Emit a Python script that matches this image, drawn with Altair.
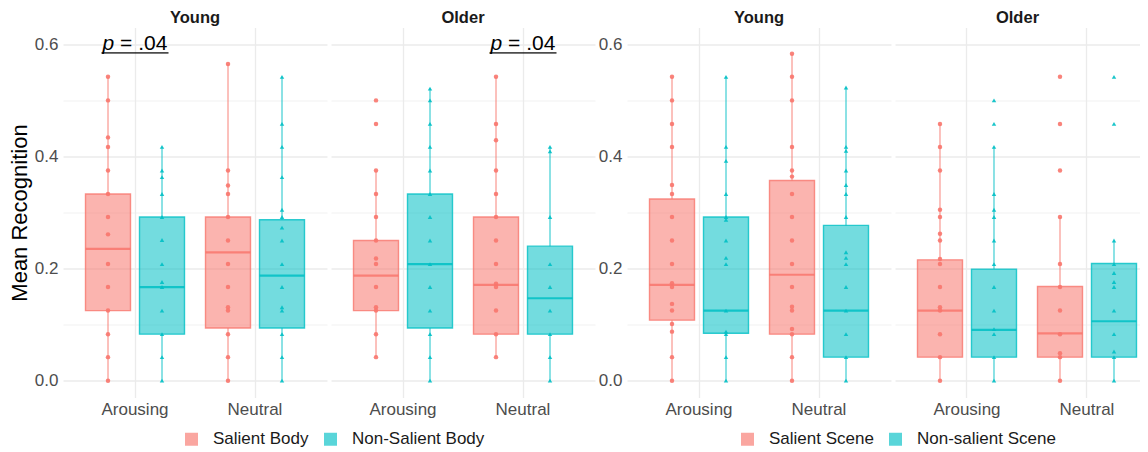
import altair as alt
import pandas as pd

RED = "#F8766D"
TEAL = "#00BFC4"

ages = ["Young", "Older"]
conds = ["Arousing", "Neutral"]
body_types = ["Salient Body", "Non-Salient Body"]
scene_types = ["Salient Scene", "Non-salient Scene"]
marker_kinds = ["sal", "non"]

# box order: Young-Arousing (S, N), Young-Neutral (S, N), Older-Arousing (S, N), Older-Neutral (S, N)
box_age = ["Young"] * 4 + ["Older"] * 4
box_cond = ["Arousing", "Arousing", "Neutral", "Neutral"] * 2
box_kind = [0, 1, 0, 1] * 2

body_lo = [0.0, 0.0, 0.0, 0.0, 0.042, 0.0, 0.042, 0.0]
body_q1 = [0.125, 0.083, 0.094, 0.094, 0.125, 0.094, 0.083, 0.083]
body_med = [0.235, 0.167, 0.229, 0.1875, 0.1875, 0.208, 0.171, 0.147]
body_q3 = [0.333, 0.292, 0.292, 0.287, 0.25, 0.333, 0.292, 0.24]
body_hi = [0.542, 0.417, 0.565, 0.542, 0.375, 0.521, 0.542, 0.417]
body_pts = [
    [0.542, 0.5, 0.434, 0.417, 0.375, 0.333, 0.292, 0.261, 0.208, 0.167, 0.125, 0.083, 0.042, 0.0],
    [0.417, 0.375, 0.363, 0.333, 0.292, 0.251, 0.208, 0.176, 0.167, 0.125, 0.083, 0.042, 0.0],
    [0.565, 0.375, 0.348, 0.333, 0.292, 0.25, 0.208, 0.167, 0.131, 0.125, 0.083, 0.042, 0.0],
    [0.542, 0.458, 0.417, 0.363, 0.305, 0.292, 0.273, 0.25, 0.208, 0.167, 0.131, 0.125, 0.083, 0.042, 0.0],
    [0.5, 0.458, 0.375, 0.333, 0.292, 0.25, 0.218, 0.208, 0.167, 0.131, 0.125, 0.083, 0.042],
    [0.521, 0.5, 0.458, 0.417, 0.375, 0.333, 0.292, 0.25, 0.208, 0.167, 0.125, 0.083, 0.042, 0.0],
    [0.542, 0.458, 0.429, 0.375, 0.333, 0.292, 0.25, 0.208, 0.173, 0.167, 0.125, 0.083, 0.042],
    [0.417, 0.409, 0.292, 0.208, 0.167, 0.125, 0.083, 0.042, 0.0],
]

scene_lo = [0.0, 0.0, 0.0, 0.0, 0.0, 0.0, 0.0, 0.0]
scene_q1 = [0.108, 0.0845, 0.083, 0.042, 0.042, 0.042, 0.042, 0.042]
scene_med = [0.171, 0.125, 0.189, 0.125, 0.125, 0.0905, 0.0845, 0.106]
scene_q3 = [0.324, 0.292, 0.357, 0.277, 0.2155, 0.199, 0.168, 0.209]
scene_hi = [0.542, 0.542, 0.583, 0.523, 0.458, 0.417, 0.292, 0.25]
scene_pts = [
    [0.542, 0.5, 0.458, 0.417, 0.349, 0.333, 0.292, 0.25, 0.208, 0.174, 0.167, 0.137, 0.125, 0.101, 0.0875, 0.042, 0.0],
    [0.542, 0.417, 0.392, 0.333, 0.292, 0.287, 0.25, 0.219, 0.208, 0.125, 0.0875, 0.083, 0.042, 0.0],
    [0.583, 0.542, 0.5, 0.417, 0.375, 0.364, 0.333, 0.292, 0.25, 0.208, 0.167, 0.132, 0.125, 0.092, 0.083, 0.042, 0.0],
    [0.523, 0.417, 0.41, 0.375, 0.349, 0.333, 0.292, 0.229, 0.219, 0.208, 0.167, 0.125, 0.083, 0.042, 0.0],
    [0.458, 0.417, 0.375, 0.305, 0.292, 0.262, 0.25, 0.217, 0.208, 0.167, 0.131, 0.125, 0.083, 0.042, 0.0],
    [0.5, 0.458, 0.417, 0.333, 0.305, 0.292, 0.25, 0.208, 0.167, 0.125, 0.092, 0.083, 0.042, 0.0],
    [0.542, 0.458, 0.375, 0.292, 0.208, 0.167, 0.125, 0.083, 0.049, 0.042, 0.0],
    [0.542, 0.458, 0.25, 0.208, 0.192, 0.176, 0.167, 0.125, 0.083, 0.052, 0.042, 0.0],
]

annot_age = ["Young", "Older"]
annot_cond = ["Arousing", "Neutral"]
annot_p = ["p", "p"]
annot_rest = ["= .04", "= .04"]
annot_text_y = [0.589, 0.589]
annot_line_y = [0.5848, 0.5848]


def boxes_df(types, lo, q1, med, q3, hi):
    return pd.DataFrame({
        "age": box_age, "cond": box_cond,
        "type": [types[k] for k in box_kind],
        "lo": lo, "q1": q1, "med": med, "q3": q3, "hi": hi,
    })


def points_df(types, pts):
    rows = []
    for a, c, k, vals in zip(box_age, box_cond, box_kind, pts):
        for v in vals:
            rows.append({"age": a, "cond": c, "type": types[k], "mk": marker_kinds[k], "value": v})
    return pd.DataFrame(rows)


annot_df = pd.DataFrame({"age": annot_age, "cond": annot_cond, "p": annot_p,
                         "rest": annot_rest, "ty": annot_text_y, "ly": annot_line_y})

GRID_W = {"condition": {"test": "round(datum.value*10) % 2 == 0", "value": 1.3}, "value": 0.7}


def panel(types, bdf, pdf, age, width, po, align, show_labels, ytitle, legend, annotate):
    b = bdf[bdf.age == age]
    p = pdf[pdf.age == age]
    cscale = alt.Scale(domain=types, range=[RED, TEAL])
    xax = alt.Axis(title=None, labelFontSize=17, labelColor="#4D4D4D", labelAngle=0,
                   labelPadding=4, ticks=False, domain=False, grid=True,
                   gridColor="#EBEBEB", gridWidth=1.3, bandPosition=0.5)
    x = alt.X("cond:N", sort=conds,
              scale=alt.Scale(domain=conds, paddingInner=0.15, paddingOuter=po, align=align),
              axis=xax)
    xo = alt.XOffset("type:N", sort=types,
                     scale=alt.Scale(domain=types, paddingInner=1 - 45 / 54, paddingOuter=0.0278))
    ysc = alt.Scale(domain=[-0.03, 0.63], nice=False, zero=False)
    yax = alt.Axis(values=[0, 0.1, 0.2, 0.3, 0.4, 0.5, 0.6],
                   labelExpr="round(datum.value*10) % 2 == 0 ? format(datum.value, '.1f') : ''",
                   labels=show_labels, labelFontSize=17, labelColor="#4D4D4D", labelPadding=5,
                   ticks=False, domain=False, grid=True, gridColor="#EBEBEB", gridWidth=GRID_W,
                   title=ytitle, titleFontSize=22, titleFontWeight="normal", titleColor="#000000",
                   titlePadding=3)
    col = alt.Color("type:N", scale=cscale)

    layers = [
        # boxes first: its legend settings are the ones that count
        alt.Chart(b).mark_bar(fillOpacity=0.55, strokeOpacity=0.8, strokeWidth=1.4).encode(
            x=x, xOffset=xo, y=alt.Y("q1:Q", scale=ysc, axis=yax), y2="q3:Q",
            color=alt.Color("type:N", scale=cscale, legend=legend),
            stroke=alt.Stroke("type:N", scale=cscale, legend=None)),
        alt.Chart(b).mark_rule(strokeWidth=1.4, opacity=0.65).encode(
            x=x, xOffset=xo, y=alt.Y("lo:Q", scale=ysc, axis=yax), y2="q1:Q", color=col),
        alt.Chart(b).mark_rule(strokeWidth=1.4, opacity=0.65).encode(
            x=x, xOffset=xo, y=alt.Y("q3:Q", scale=ysc, axis=yax), y2="hi:Q", color=col),
        alt.Chart(b).mark_tick(orient="horizontal", size=45, thickness=2.2, opacity=0.85).encode(
            x=x, xOffset=xo, y=alt.Y("med:Q", scale=ysc, axis=yax), color=col),
        alt.Chart(p).mark_point(filled=True, size=20, opacity=0.9).encode(
            x=x, xOffset=xo, y=alt.Y("value:Q", scale=ysc, axis=yax), color=col,
            shape=alt.Shape("mk:N", scale=alt.Scale(domain=marker_kinds,
                                                    range=["circle", "triangle-up"]),
                            legend=None)),
    ]
    if annotate:
        a = annot_df[annot_df.age == age]
        layers += [
            alt.Chart(a).mark_text(fontSize=21, fontStyle="italic", align="left",
                                   baseline="alphabetic", dx=-32.4, color="#000000").encode(
                x=x, y=alt.Y("ty:Q", scale=ysc, axis=yax), text="p:N"),
            alt.Chart(a).mark_text(fontSize=21, align="left", baseline="alphabetic",
                                   dx=-14.9, color="#000000").encode(
                x=x, y=alt.Y("ty:Q", scale=ysc, axis=yax), text="rest:N"),
            alt.Chart(a).mark_tick(orient="horizontal", size=67, thickness=1.6, color="#000000").encode(
                x=x, y=alt.Y("ly:Q", scale=ysc, axis=yax)),
        ]
    return alt.layer(*layers).properties(
        width=width, height=370,
        title=alt.Title(age, fontSize=16.5, fontWeight="bold", color="#1A1A1A", offset=1),
    )


def make_legend(lx, ly):
    return alt.Legend(title=None, orient="none", legendX=lx, legendY=ly, direction="horizontal",
                      columns=2, symbolType="square", symbolSize=169, symbolOpacity=0.6,
                      symbolStrokeWidth=0, labelFontSize=17, labelColor="#1A1A1A",
                      labelOffset=13, columnPadding=13)


RES = dict(x="independent", y="independent", color="independent", stroke="independent",
           shape="independent", xOffset="independent")

bdf_body = boxes_df(body_types, body_lo, body_q1, body_med, body_q3, body_hi)
pdf_body = points_df(body_types, body_pts)
bdf_scene = boxes_df(scene_types, scene_lo, scene_q1, scene_med, scene_q3, scene_hi)
pdf_scene = points_df(scene_types, scene_pts)

spacer = alt.Chart(pd.DataFrame({"v": [0]})).mark_point(opacity=0).encode(
    y=alt.Y("v:Q", axis=None)
).properties(width=24, height=370)

chart = alt.hconcat(
    panel(body_types, bdf_body, pdf_body, "Young", 264, 0.175, 0.5, True, "Mean Recognition",
          make_legend(120, 403), True),
    panel(body_types, bdf_body, pdf_body, "Older", 264, 0.175, 0.5, False, None, None, True),
    spacer,
    panel(scene_types, bdf_scene, pdf_scene, "Young", 264, 0.175, 0.5, True, None,
          make_legend(112, 403), False),
    panel(scene_types, bdf_scene, pdf_scene, "Older", 245, 0.0958, 0.913, False, None, None, False),
    spacing=4, bounds="flush",
).resolve_scale(**RES).properties(
    padding={"left": 0, "top": 1.5, "right": 0, "bottom": 0}, background="white"
).configure(
    font="Liberation Sans", view=alt.ViewConfig(stroke=None)
)

chart.save("out.html", embed_options={"renderer": "svg", "actions": False})
